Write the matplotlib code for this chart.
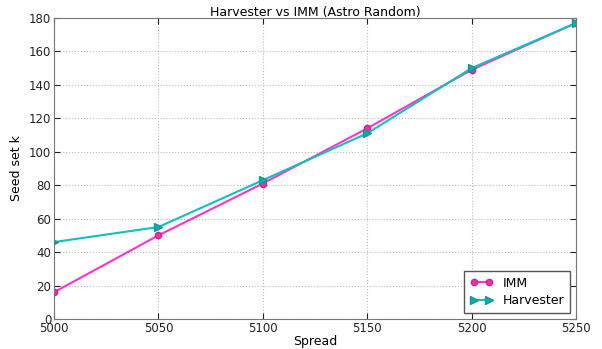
import matplotlib
matplotlib.use("Agg")
import matplotlib.pyplot as plt

spread = [5000, 5050, 5100, 5150, 5200, 5250]
imm = [16, 50, 81, 114, 149, 177]
harvester = [46, 55, 83, 111, 150, 177]

plt.rcParams['font.family'] = 'DejaVu Sans'
plt.rcParams['font.size'] = 9

fig = plt.figure(figsize=(6.02, 3.49), dpi=100)
ax = fig.add_axes([54 / 602, 30 / 349, 522 / 602, 301 / 349])

ax.plot(spread, imm, color='#ff33cc', marker='o', markersize=4.5, lw=1.5,
        markeredgecolor='#cc2299', markerfacecolor='#ee3399', label='IMM')
ax.plot(spread, harvester, color='#11c0c0', marker='>', markersize=5.5, lw=1.5,
        markeredgecolor='#119999', markerfacecolor='#11aaaa', label='Harvester')

ax.set_xlim(5000, 5250)
ax.set_ylim(0, 180)
ax.set_xticks(spread)
ax.set_yticks(range(0, 181, 20))
ax.grid(True, linestyle=':', color='#bbbbbb', lw=0.8)
ax.tick_params(direction='in', top=True, right=True, length=4, pad=2,
               labelsize=8.5, colors='#222222')
for s in ax.spines.values():
    s.set_color('#777777')

ax.set_title('Harvester vs IMM (Astro Random)', fontsize=9, pad=1.5)
ax.set_xlabel('Spread', fontsize=9, labelpad=0)
ax.set_ylabel('Seed set k', fontsize=9, labelpad=4)

leg = ax.legend(loc='lower right', fancybox=False, framealpha=1, fontsize=9,
                numpoints=2, handlelength=1.8, borderpad=0.45, labelspacing=0.35)
leg.get_frame().set_edgecolor('#555555')

fig.savefig('out.png', dpi=100, facecolor='white')
